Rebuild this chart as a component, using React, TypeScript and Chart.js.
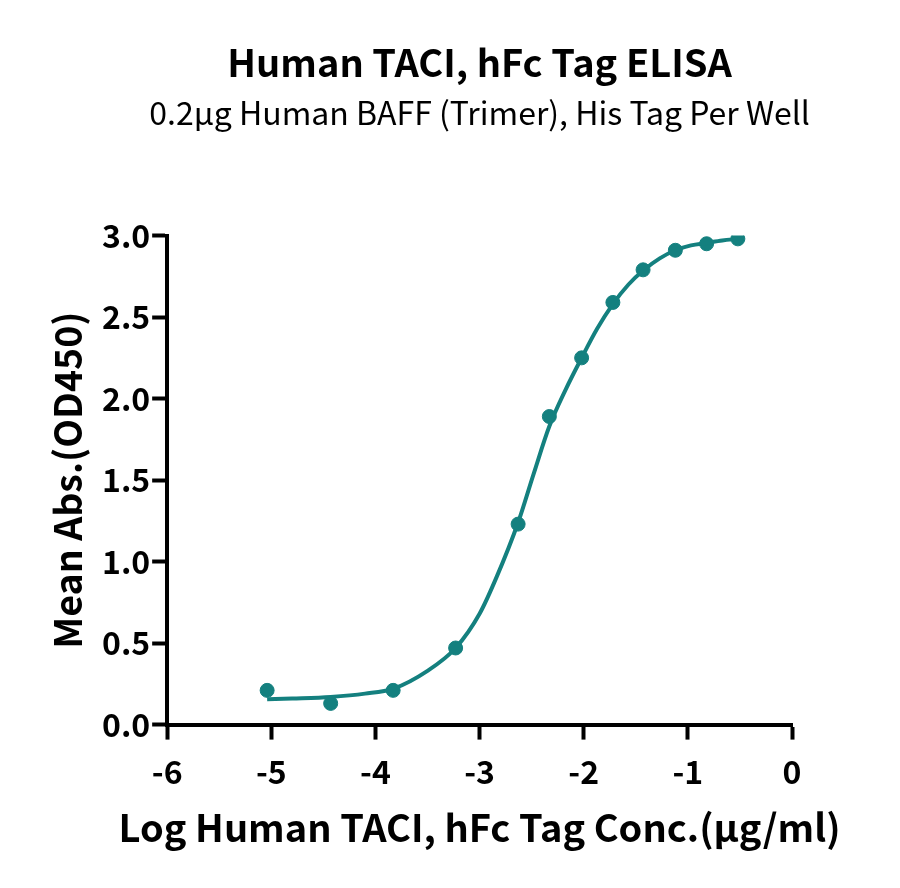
import React, { useEffect, useRef } from 'react';
import { Chart, registerables } from 'chart.js';

Chart.register(...registerables);

// --- data ---
const pointX = [-5.04, -4.43, -3.83, -3.23, -2.63, -2.33, -2.02, -1.72, -1.43, -1.12, -0.82, -0.52];
const pointY = [0.21, 0.13, 0.21, 0.47, 1.23, 1.89, 2.25, 2.59, 2.79, 2.91, 2.95, 2.98];

// fitted curve, sampled by eye along the drawn line
const curveX = [-5.04, -4.8, -4.43, -4.1, -3.83, -3.5, -3.23, -3.0, -2.84, -2.63, -2.48, -2.33, -2.17, -2.02, -1.87, -1.72, -1.57, -1.42, -1.27, -1.12, -0.97, -0.82, -0.67, -0.52];
const curveY = [0.155, 0.16, 0.17, 0.19, 0.22, 0.33, 0.47, 0.68, 0.9, 1.24, 1.54, 1.83, 2.06, 2.25, 2.43, 2.58, 2.70, 2.79, 2.86, 2.91, 2.94, 2.955, 2.97, 2.98];

const xTicks = [-6, -5, -4, -3, -2, -1, 0];
const yTicks = [0, 0.5, 1.0, 1.5, 2.0, 2.5, 3.0];

const TITLE = 'Human TACI, hFc Tag ELISA';
const SUBTITLE = '0.2μg Human BAFF (Trimer), His Tag Per Well';
const X_TITLE = 'Log Human TACI, hFc Tag Conc.(μg/ml)';
const Y_TITLE = 'Mean Abs.(OD450)';

const TEAL = '#14807f';
const FONT = '"Noto Sans CJK SC", "Noto Sans", sans-serif';

// Chart.js squeezes titles to the axis width; these two are wider than the plot,
// so they are drawn here, centred on the plot area.
const wideTexts = {
  id: 'wideTexts',
  afterDraw(chart: Chart) {
    const { ctx, chartArea } = chart;
    const cx = (chartArea.left + chartArea.right) / 2;
    ctx.save();
    ctx.fillStyle = '#000';
    ctx.textAlign = 'center';
    ctx.textBaseline = 'middle';
    ctx.font = `normal 32px ${FONT}`;
    ctx.fillText(SUBTITLE, cx, chartArea.top - 123);
    ctx.font = `bold 38px ${FONT}`;
    ctx.fillText(X_TITLE, cx, chartArea.bottom + 103);
    ctx.restore();
  },
};

export default function App() {
  const canvasRef = useRef<HTMLCanvasElement>(null);

  useEffect(() => {
    document.body.style.margin = '0';
    const ctx = canvasRef.current?.getContext('2d');
    if (!ctx) return;

    const chart = new Chart(ctx, {
      type: 'scatter',
      data: {
        datasets: [
          {
            type: 'line',
            data: curveX.map((x, i) => ({ x, y: curveY[i] })),
            borderColor: TEAL,
            borderWidth: 4,
            pointRadius: 0,
            cubicInterpolationMode: 'monotone',
            fill: false,
          },
          {
            data: pointX.map((x, i) => ({ x, y: pointY[i] })),
            backgroundColor: TEAL,
            borderColor: TEAL,
            pointRadius: 7,
            showLine: false,
          },
        ],
      },
      options: {
        responsive: true,
        maintainAspectRatio: false,
        animation: false,
        layout: { padding: { left: 41, right: 108, top: 0, bottom: 84 } },
        plugins: {
          legend: { display: false },
          tooltip: { enabled: false },
          title: {
            display: true,
            fullSize: false,
            text: TITLE,
            color: '#000',
            font: { family: FONT, size: 38, weight: 'bold' },
            padding: { top: 40, bottom: 150 },
          },
        },
        scales: {
          x: {
            type: 'linear',
            min: -6,
            max: 0,
            afterBuildTicks: (axis) => { axis.ticks = xTicks.map((v) => ({ value: v })); },
            grid: { drawOnChartArea: false, drawTicks: true, tickLength: 15, tickWidth: 4, tickColor: '#000' },
            border: { display: true, color: '#000', width: 4 },
            ticks: { color: '#000', font: { family: FONT, size: 32, weight: 'bold' }, padding: 13 },
          },
          y: {
            type: 'linear',
            min: 0,
            max: 3,
            afterBuildTicks: (axis) => { axis.ticks = yTicks.map((v) => ({ value: v })); },
            grid: { drawOnChartArea: false, drawTicks: true, tickLength: 15, tickWidth: 4, tickColor: '#000' },
            border: { display: true, color: '#000', width: 4 },
            ticks: {
              color: '#000',
              font: { family: FONT, size: 32, weight: 'bold' },
              padding: 2,
              callback: (v) => Number(v).toFixed(1),
            },
            title: {
              display: true,
              text: Y_TITLE,
              color: '#000',
              font: { family: FONT, size: 37.5, weight: 'bold' },
              padding: { top: 4, bottom: 10 },
            },
          },
        },
      },
      plugins: [wideTexts],
    });

    return () => chart.destroy();
  }, []);

  return (
    <div style={{ width: 900, height: 888, position: 'relative', background: '#fff' }}>
      <canvas ref={canvasRef} />
    </div>
  );
}
